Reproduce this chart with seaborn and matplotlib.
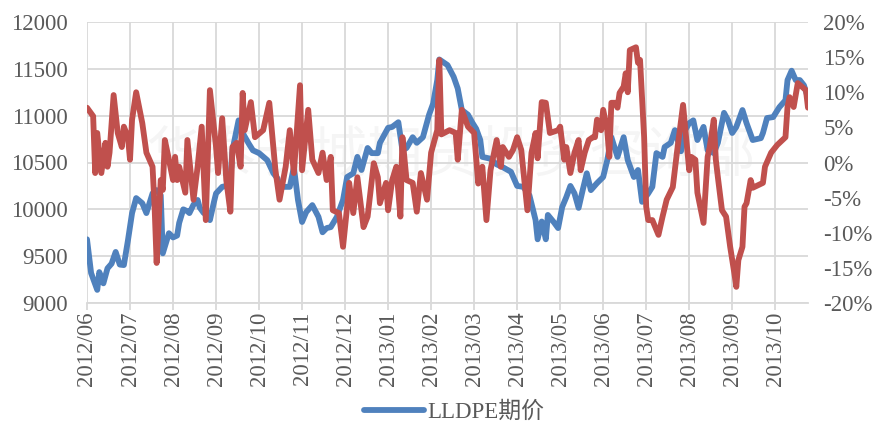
import matplotlib
matplotlib.use("Agg")
import matplotlib.pyplot as plt
import seaborn as sns
import pandas as pd
from matplotlib.ticker import FuncFormatter, FixedLocator

# ---------------- data (trading-day index) -------------
month_labels = ["2012/06", "2012/07", "2012/08", "2012/09", "2012/10", "2012/11",
                "2012/12", "2013/01", "2013/02", "2013/03", "2013/04", "2013/05",
                "2013/06", "2013/07", "2013/08", "2013/09", "2013/10"]
days_per_month = 21

price_days = [0, 2, 5, 6, 8, 10, 12, 14, 16, 18, 20, 22, 24, 27, 29, 32, 34, 36, 37,
              40, 42, 44, 45, 47, 49, 50, 52, 54, 55, 57, 59, 60, 62, 63, 66, 68, 70,
              71, 74, 76, 79, 81, 84, 88, 91, 93, 94, 97, 99, 101, 103, 105, 107, 110,
              113, 115, 117, 119, 122, 125, 127, 130, 132, 134, 137, 139, 142, 143,
              147, 149, 152, 154, 156, 159, 161, 164, 167, 169, 171, 172, 176, 179,
              181, 183, 186, 188, 190, 192, 193, 197, 200, 203, 207, 210, 213, 216,
              219, 220, 222, 224, 225, 228, 230, 232, 234, 236, 238, 240, 242, 244,
              246, 249, 252, 254, 256, 259, 262, 264, 267, 269, 271, 274, 276, 278,
              281, 282, 285, 287, 290, 292, 294, 296, 298, 301, 303, 306, 308, 311,
              313, 315, 317, 320, 322, 325, 329, 330, 332, 335, 338, 341, 342, 344,
              346, 348, 350, 352]
price = [9680, 9320, 9140, 9330, 9210, 9370, 9420, 9545, 9410, 9405, 9670, 9960,
         10120, 10065, 9960, 10170, 10205, 10150, 9530, 9745, 9700, 9720, 9855,
         10000, 9980, 9960, 10050, 10100, 10020, 9960, 9960, 9885, 10080, 10170,
         10240, 10250, 10310, 10630, 10950, 10815, 10700, 10630, 10600, 10525,
         10385, 10330, 10240, 10240, 10240, 10450, 10100, 9865, 9970, 10045, 9920,
         9755, 9800, 9810, 9920, 10100, 10345, 10385, 10560, 10420, 10655, 10600,
         10600, 10710, 10870, 10880, 10930, 10630, 10655, 10770, 10710, 10770,
         11010, 11130, 11380, 11600, 11540, 11415, 11290, 11060, 11010, 10930,
         10860, 10740, 10560, 10540, 10480, 10450, 10400, 10250, 10240, 10150,
         9885, 9680, 9870, 9680, 9940, 9860, 9800, 10025, 10130, 10250, 10170,
         10015, 10205, 10385, 10205, 10280, 10345, 10525, 10770, 10560, 10770,
         10525, 10345, 10420, 10080, 10170, 10240, 10600, 10560, 10665, 10710,
         10845, 10620, 10845, 10920, 10950, 10740, 10880, 10630, 10600, 10710,
         11030, 10950, 10815, 10880, 11060, 10920, 10740, 10760, 10815, 10975,
         10985, 11090, 11165, 11380, 11480, 11380, 11380, 11325, 11190]

change_days = [0, 3, 4, 5, 7, 9, 10, 11, 13, 15, 17, 18, 20, 21, 22, 24, 27, 29, 32,
               33, 34, 36, 37, 38, 40, 42, 43, 44, 45, 48, 49, 52, 54, 56, 58, 60, 63,
               64, 66, 68, 70, 71, 73, 75, 76, 77, 80, 82, 86, 89, 92, 94, 97, 99, 101,
               104, 105, 108, 110, 113, 115, 117, 119, 120, 123, 125, 127, 128, 130,
               132, 135, 137, 140, 142, 143, 146, 147, 149, 151, 153, 154, 156, 159,
               161, 163, 166, 168, 171, 172, 173, 177, 180, 181, 183, 186, 189, 191,
               193, 195, 197, 200, 202, 203, 206, 208, 210, 212, 215, 217, 219, 220,
               222, 224, 226, 230, 231, 233, 234, 236, 238, 240, 241, 243, 245, 247,
               248, 249, 251, 252, 254, 255, 256, 258, 259, 260, 262, 263, 264, 265,
               268, 269, 270, 272, 273, 274, 276, 279, 281, 283, 286, 288, 291, 292,
               294, 295, 297, 298, 301, 303, 304, 306, 307, 308, 310, 312, 314, 316,
               317, 318, 320, 321, 322, 324, 325, 330, 331, 334, 337, 341, 342, 343,
               345, 347, 349, 351, 352]
change_pct = [7.8, 6.6, -1.5, 4.2, -1.5, 2.8, -0.6, 1.4, 9.6, 4.2, 2.2, 5.1, 3.6,
              0.4, 6.1, 10.0, 5.6, 1.4, -0.6, -6.3, -14.3, -2.5, -3.9, 3.2, 0.4, -2.5,
              0.8, -2.5, -0.6, -4.3, 3.2, -5.3, -0.6, 5.1, -8.2, 10.3, 2.2, -1.5, 6.3,
              -2.5, -7.0, 2.2, 2.8, -0.6, 9.9, 4.6, 8.6, 3.6, 4.6, 8.5, -1.1, -5.3,
              -0.6, 4.6, -1.5, 11.0, -1.1, 7.5, 0.4, -1.5, 1.4, -2.5, 0.8, -6.8, -7.2,
              -12.0, -6.3, -2.9, -7.2, -2.1, -9.2, -7.7, -0.1, -2.1, -5.8, -2.9, -6.8,
              -2.5, -0.6, -7.7, 3.6, -2.5, -2.9, -7.0, -1.5, -5.3, 1.4, 4.6, 14.6, 4.0,
              4.6, 4.2, 0.4, 7.5, 5.1, 4.2, -3.0, -0.6, -8.2, -1.1, 3.2, -0.6, 2.2, 0.8,
              1.8, 3.6, 1.8, -6.8, 1.4, 4.2, 0.6, 8.6, 8.5, 4.2, 4.6, 5.1, 0.4, 2.2,
              -1.5, 1.4, 3.2, -1.1, 1.4, 3.2, 3.6, 3.6, 6.1, 4.6, 7.5, 4.6, 0.8, 8.5,
              8.5, 7.8, 9.9, 10.8, 12.7, 10.0, 16.0, 16.4, 14.2, 14.6, 3.6, -6.3, -8.2,
              -8.2, -10.3, -7.7, -5.3, -3.5, 1.4, 8.2, 5.1, -1.1, 0.8, 0.4, -4.3, -8.6,
              0.8, 2.2, 6.1, 0.4, -2.1, -6.8, -7.7, -12.0, -15.7, -17.7, -13.9, -12.0,
              -6.3, -5.8, -2.5, -3.6, -2.9, -0.6, 1.4, 2.5, 3.6, 7.9, 9.3, 7.9, 11.3,
              10.8, 10.3, 7.8]

series_price_name = "LLDPE期价"
watermark_text = "华泰长城期货投资咨询部"
left_ticks = [9000, 9500, 10000, 10500, 11000, 11500, 12000]
right_ticks = [-20, -15, -10, -5, 0, 5, 10, 15, 20]

# ---------------- style ----------------
sns.set_theme(style="white")
plt.rcParams["font.family"] = ["Liberation Serif", "Noto Sans CJK SC", "DejaVu Sans"]
text_color = "#595959"
grid_color = "#D9D9D9"
blue = "#4F81BD"
red = "#C0504D"

W, H = 879, 428
fig = plt.figure(figsize=(W / 100, H / 100), dpi=100)
ax = fig.add_axes([87 / W, 1 - 303 / H, (808 - 87) / W, (303 - 22) / H])

df_price = pd.DataFrame({"day": price_days, "price": price})
df_change = pd.DataFrame({"day": change_days, "pct": [v / 100 for v in change_pct]})

# faint watermark
ax.text(0.505, 0.52, watermark_text, transform=ax.transAxes, ha="center", va="center",
        fontsize=40, color="#000000", alpha=0.04, zorder=0.5,
        family=["Noto Sans CJK SC"])

sns.lineplot(data=df_price, x="day", y="price", ax=ax, color=blue, linewidth=4.2,
             label=series_price_name, legend=False, zorder=3, solid_capstyle="round",
             solid_joinstyle="round")

ax2 = ax.twinx()
sns.lineplot(data=df_change, x="day", y="pct", ax=ax2, color=red, linewidth=4.2,
             legend=False, zorder=3, solid_capstyle="round", solid_joinstyle="round")

xmax = 352
tick_pos = [i * days_per_month for i in range(len(month_labels))]
ax.set_xlim(0, xmax)
ax.set_ylim(9000, 12000)
ax2.set_ylim(-0.2, 0.2)

ax.xaxis.set_major_locator(FixedLocator(tick_pos))
ax.set_xticklabels(month_labels, rotation=90)
ax.set_yticks(left_ticks)
ax.set_yticklabels([str(v) for v in left_ticks])
ax2.set_yticks([v / 100 for v in right_ticks])
ax2.yaxis.set_major_formatter(FuncFormatter(lambda v, p: f"{v * 100:.0f}%"))

ax.grid(True, color=grid_color, linewidth=1.3)
ax.set_axisbelow(True)
ax2.grid(False)

for a in (ax, ax2):
    for s in a.spines.values():
        s.set_visible(False)
    a.set_xlabel("")
    a.set_ylabel("")
ax.spines["bottom"].set_visible(True)
ax.spines["bottom"].set_color(grid_color)
ax.spines["bottom"].set_linewidth(1.3)

ax.tick_params(axis="x", length=5, width=1.3, color=grid_color, labelcolor=text_color,
               labelsize=16.5, pad=1, bottom=True)
ax.tick_params(axis="y", length=0, labelcolor=text_color, labelsize=16.5, pad=14)
ax2.tick_params(axis="y", length=0, labelcolor=text_color, labelsize=16.5, pad=11)
for lab in ax.get_yticklabels() + ax2.get_yticklabels() + ax.get_xticklabels():
    lab.set_fontfamily("Liberation Serif")

handles, labels = ax.get_legend_handles_labels()
leg = fig.legend(handles, labels, loc="center", bbox_to_anchor=(0.517, 16 / H),
                 frameon=False, fontsize=16.5, handlelength=2.6, handletextpad=0.15,
                 labelcolor=text_color)
for t in leg.get_texts():
    t.set_fontfamily(["Liberation Serif", "Noto Sans CJK SC"])

fig.savefig("out.png", dpi=100)
